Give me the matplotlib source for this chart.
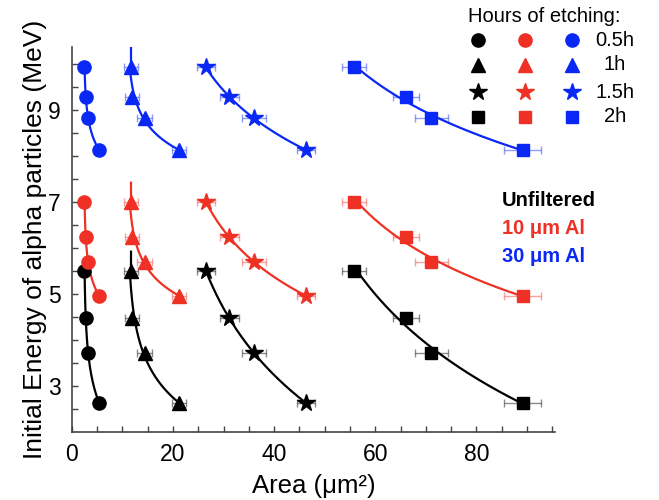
import numpy as np
import matplotlib.pyplot as plt

plt.rcParams['font.family'] = ['Liberation Sans', 'DejaVu Sans']

# track areas (um^2) for each etching time
area_05h = [2.5, 2.8, 3.2, 5.4]
area_1h = [11.7, 11.9, 14.4, 21.2]
area_15h = [26.5, 31.1, 36.0, 46.3]
area_2h = [55.8, 66.1, 71.1, 89.1]

err_05h = [0.4, 0.4, 0.4, 0.4]
err_1h = [1.3, 1.3, 1.5, 1.3]
err_15h = [1.8, 1.9, 2.3, 1.7]
err_2h = [2.4, 2.6, 3.2, 3.7]

# initial alpha energies (MeV) per filter
energy_unfiltered = [5.5, 4.48, 3.72, 2.63]
energy_10um = [7.0, 6.24, 5.70, 4.96]
energy_30um = [9.93, 9.28, 8.83, 8.13]

filter_names = ['Unfiltered', '10 \u03bcm Al', '30 \u03bcm Al']
filter_colors = ['#000000', '#EE3124', '#0A28F5']
etch_labels = ['0.5h', '1h', '1.5h', '2h']
etch_markers = ['o', '^', '*', 's']
marker_sizes = [9.5, 10, 13, 8.5]


def fit_curve(x, e, extend=0.0):
    # x = a + b*exp(k*E), k picked by grid search
    x = np.array(x)
    e = np.array(e)
    best = None
    for k in np.linspace(-8, 8, 1601):
        if abs(k) < 1e-3:
            continue
        A = np.column_stack([np.ones_like(e), np.exp(k * (e - e.mean()))])
        coef = np.linalg.lstsq(A, x, rcond=None)[0]
        r = np.sum((A @ coef - x) ** 2)
        if best is None or r < best[0]:
            best = (r, k, coef)
    _, k, coef = best
    ee = np.linspace(e.min(), e.max(), 200)
    xx = coef[0] + coef[1] * np.exp(k * (ee - e.mean()))
    if extend > 0:
        # straight run upward from the top point
        top = np.argmax(e)
        ee = np.append(ee, [e[top], e.max() + extend])
        xx = np.append(xx, [x[top], x[top]])
    return xx, ee


fig = plt.figure(figsize=(6.59, 5.0), dpi=100)
ax = fig.add_axes([0.109, 0.136, 0.733, 0.770])

areas = [area_05h, area_1h, area_15h, area_2h]
errs = [err_05h, err_1h, err_15h, err_2h]
energies = [energy_unfiltered, energy_10um, energy_30um]

for energy, color in zip(energies, filter_colors):
    for i in range(4):
        x = areas[i]
        ax.errorbar(x, energy, xerr=errs[i], fmt='none', ecolor=color,
                    alpha=0.45, elinewidth=1, capsize=3, capthick=1, zorder=1)
        ext = 0.42 if i == 1 else 0.0
        xx, ee = fit_curve(x, energy, ext)
        ax.plot(xx, ee, color=color, lw=1.6, zorder=2)
        ax.plot(x, energy, ls='none', marker=etch_markers[i],
                ms=marker_sizes[i], color=color, mec=color, zorder=3)

ax.set_xlim(0, 95.5)
ax.set_ylim(2.0, 10.37)
ax.set_xticks(np.arange(0, 96, 5))
ax.set_xticklabels(['0', '', '', '', '20', '', '', '', '40', '', '', '',
                    '60', '', '', '', '80', '', '', ''])
yt = np.arange(2.5, 10.1, 0.5)
ax.set_yticks(yt)
ax.set_yticklabels([('%d' % v) if v in (3, 5, 7, 9) else '' for v in yt])
ax.tick_params(direction='in', length=4, width=1, color='#444444',
               labelsize=16.5, pad=8)
for s in ['top', 'right']:
    ax.spines[s].set_visible(False)
for s in ['left', 'bottom']:
    ax.spines[s].set_color('#444444')
    ax.spines[s].set_linewidth(1.2)

ax.set_xlabel('Area (\u03bcm\u00b2)', fontsize=18.5, labelpad=6)
ax.set_ylabel('Initial Energy of alpha particles (MeV)', fontsize=19,
              labelpad=1)

# legend drawn in pixel coordinates on an overlay
lg = fig.add_axes([0, 0, 1, 1])
lg.set_xlim(0, 659)
lg.set_ylim(500, 0)
lg.axis('off')
lg.patch.set_alpha(0)
lg.text(468, 16, 'Hours of etching:', fontsize=14.5, ha='left', va='center')
col_x = [478, 525, 572]
row_y = [40, 65, 92, 117]
for j, color in enumerate(filter_colors):
    for i in range(4):
        lg.plot([col_x[j]], [row_y[i]], marker=etch_markers[i],
                ms=marker_sizes[i], color=color, ls='none')
for i in range(4):
    lg.text(615, row_y[i], etch_labels[i], fontsize=14.5, ha='center',
            va='center')
for k, (name, color) in enumerate(zip(filter_names, filter_colors)):
    lg.text(502, 200 + k * 28.5, name, fontsize=14.5, fontweight='bold',
            color=color, ha='left', va='center')

fig.savefig('out.png', dpi=100)
